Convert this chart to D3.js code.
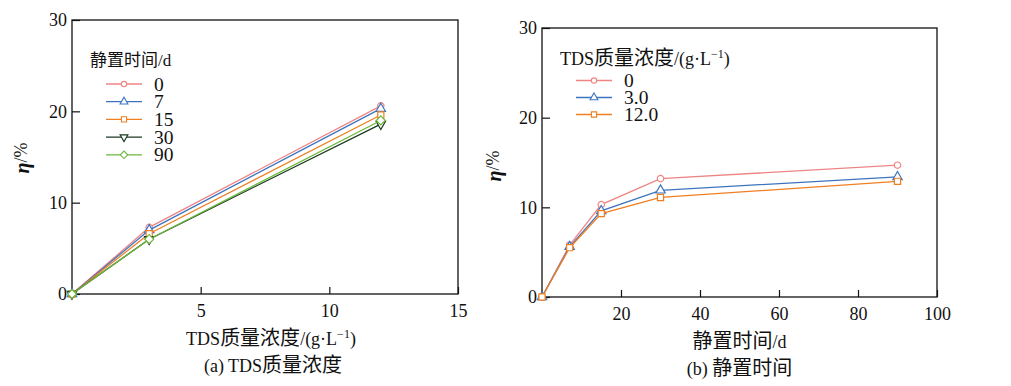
<!DOCTYPE html>
<html>
<head>
<meta charset="utf-8">
<script src="https://cdn.jsdelivr.net/npm/d3@7"></script>
<style>
  body { margin: 0; background: #fff; }
  text { font-family: "Liberation Serif", "Noto Sans CJK SC", serif; fill: #111; }
</style>
</head>
<body>
<svg id="chart" width="1011" height="386"></svg>
<script>
// panel (a): eta vs TDS concentration, one series per standing time
const tdsValues = [0, 3, 12];
const standDays = ['0', '7', '15', '30', '90'];
const etaDay0 = [0, 7.3, 20.6];
const etaDay7 = [0, 7.0, 20.3];
const etaDay15 = [0, 6.6, 19.6];
const etaDay30 = [0, 6.0, 18.6];
const etaDay90 = [0, 6.0, 19.0];

// panel (b): eta vs standing time, one series per TDS concentration
const dayValues = [0, 7, 15, 30, 90];
const tdsLevels = ['0', '3.0', '12.0'];
const etaTds0 = [0, 5.8, 10.3, 13.2, 14.7];
const etaTds3 = [0, 5.6, 9.6, 11.9, 13.4];
const etaTds12 = [0, 5.5, 9.3, 11.1, 12.9];

const xTicksA = [5, 10, 15];
const xTicksB = [20, 40, 60, 80, 100];
const yTicks = [0, 10, 20, 30];

const svg = d3.select('#chart');

function markerPath(kind, scale = 1) {
    const k = kind.replace('down', '');
    const sym = {circle: d3.symbolCircle, triangle: d3.symbolTriangle, square: d3.symbolSquare, diamond: d3.symbolDiamond2}[k];
    const size = {circle: 32, triangle: 38, square: 38, diamond: 52}[k];
    return d3.symbol(sym, size * scale)();
}

// latin in one size, CJK runs a bit larger (the source uses a wide Song face)
function mixedText(el, str, latin, cjk) {
    const runs = str.match(/[\u4e00-\u9fff]+|[^\u4e00-\u9fff]+/g);
    runs.forEach(r => {
        const isCjk = /[\u4e00-\u9fff]/.test(r);
        el.append('tspan').text(r).style('font-size', (isCjk ? cjk : latin) + 'px');
    });
}

function tdsUnitLabel(el) {
    mixedText(el, 'TDS质量浓度/(g·L', 18, 20);
    el.append('tspan').text('−1').attr('dy', -7).style('font-size', '12px');
    el.append('tspan').text(')').attr('dy', 7).style('font-size', '18px');
}

function drawPanel(cfg) {
    const g = svg.append('g');
    const x = d3.scaleLinear().domain(cfg.xDomain).range([cfg.left, cfg.right]);
    const y = d3.scaleLinear().domain([0, 30]).range([cfg.bottom, cfg.top]);

    g.append('rect')
        .attr('x', cfg.left).attr('y', cfg.top)
        .attr('width', cfg.right - cfg.left).attr('height', cfg.bottom - cfg.top)
        .attr('fill', 'none').attr('stroke', '#111').attr('stroke-width', 1.3);

    const xAxis = g.append('g')
        .attr('transform', `translate(0, ${cfg.bottom})`)
        .call(d3.axisBottom(x).tickValues(cfg.xTicks).tickSize(-7).tickPadding(8));
    const yAxis = g.append('g')
        .attr('transform', `translate(${cfg.left}, 0)`)
        .call(d3.axisLeft(y).tickValues(yTicks).tickSize(-8).tickPadding(5));

    [xAxis, yAxis].forEach(a => {
        a.select('.domain').remove();
        a.selectAll('line').attr('stroke', '#111').attr('stroke-width', 1.2);
        a.selectAll('text').style('font-size', '18px').attr('fill', '#111')
            .style('font-family', '"Liberation Serif", serif');
    });
    xAxis.selectAll('text').attr('dy', '0.85em');

    // y label
    const yl = g.append('text')
        .attr('transform', `translate(${cfg.yLabel[0]}, ${cfg.yLabel[1]}) rotate(-90)`)
        .attr('text-anchor', 'middle').style('font-size', '18px');
    yl.append('tspan').text('η').style('font-style', 'italic').style('font-weight', 'bold').style('font-size', '20px');
    yl.append('tspan').text('/%').attr('dy', -2);

    // x label + caption
    const xl = g.append('text')
        .attr('x', (cfg.left + cfg.right) / 2 + cfg.xLabelShift).attr('y', cfg.bottom + 51)
        .attr('text-anchor', 'middle');
    cfg.xLabel(xl);
    const cap = g.append('text')
        .attr('x', (cfg.left + cfg.right) / 2 + cfg.captionShift).attr('y', cfg.bottom + 78)
        .attr('text-anchor', 'middle');
    mixedText(cap, cfg.caption, 18, 20);

    const line = d3.line().x((d, i) => x(cfg.xValues[i])).y(d => y(d));

    cfg.series.forEach(s => {
        g.append('path').datum(s.values)
            .attr('d', line).attr('fill', 'none')
            .attr('stroke', s.color).attr('stroke-width', 1.3);
        g.selectAll(null).data(s.values).join('path')
            .attr('d', markerPath(s.marker))
            .attr('transform', (d, i) => `translate(${x(cfg.xValues[i])}, ${y(d)})${s.marker === 'triangledown' ? ' rotate(180)' : ''}`)
            .attr('fill', '#fff').attr('stroke', s.color).attr('stroke-width', 1.2);
    });

    // legend
    const L = cfg.legend;
    const lg = g.append('g');
    const t = lg.append('text').attr('x', L.x).attr('y', L.y);
    cfg.legendTitle(t);
    cfg.series.forEach((s, i) => {
        const ry = L.y + L.first + i * L.step;
        lg.append('line')
            .attr('x1', L.x + 16).attr('x2', L.x + 52)
            .attr('y1', ry).attr('y2', ry)
            .attr('stroke', s.color).attr('stroke-width', 1.3);
        lg.append('path').attr('d', markerPath(s.marker, 0.7))
            .attr('transform', `translate(${L.x + 34}, ${ry})${s.marker === 'triangledown' ? ' rotate(180)' : ''}`)
            .attr('fill', '#fff').attr('stroke', s.color).attr('stroke-width', 1.1);
        lg.append('text').attr('x', L.x + 64).attr('y', ry + 6.5)
            .style('font-size', '19.5px').text(s.name);
    });
}

const colors = ['#ee8585', '#3d74bf', '#f07f22', '#1d3a22', '#6cb83c'];

drawPanel({
    left: 72, right: 458, top: 20, bottom: 294,
    xDomain: [0, 15], xTicks: xTicksA, xValues: tdsValues,
    yLabel: [29, 158], xLabelShift: 6, captionShift: 8,
    xLabel: tdsUnitLabel,
    caption: '(a) TDS质量浓度',
    legend: {x: 90, y: 66, first: 18, step: 17.7},
    legendTitle: el => mixedText(el, '静置时间/d', 17, 17),
    series: [
        {name: standDays[0], values: etaDay0, color: colors[0], marker: 'circle'},
        {name: standDays[1], values: etaDay7, color: colors[1], marker: 'triangle'},
        {name: standDays[2], values: etaDay15, color: colors[2], marker: 'square'},
        {name: standDays[3], values: etaDay30, color: colors[3], marker: 'triangledown'},
        {name: standDays[4], values: etaDay90, color: colors[4], marker: 'diamond'}
    ]
});

drawPanel({
    left: 542, right: 937, top: 28, bottom: 297,
    xDomain: [0, 100], xTicks: xTicksB, xValues: dayValues,
    yLabel: [501, 166], xLabelShift: 0, captionShift: 0,
    xLabel: el => mixedText(el, '静置时间/d', 18, 20),
    caption: '(b) 静置时间',
    legend: {x: 560, y: 65, first: 15.5, step: 17},
    legendTitle: tdsUnitLabel,
    series: [
        {name: tdsLevels[0], values: etaTds0, color: colors[0], marker: 'circle'},
        {name: tdsLevels[1], values: etaTds3, color: colors[1], marker: 'triangle'},
        {name: tdsLevels[2], values: etaTds12, color: colors[2], marker: 'square'}
    ]
});
</script>
</body>
</html>
